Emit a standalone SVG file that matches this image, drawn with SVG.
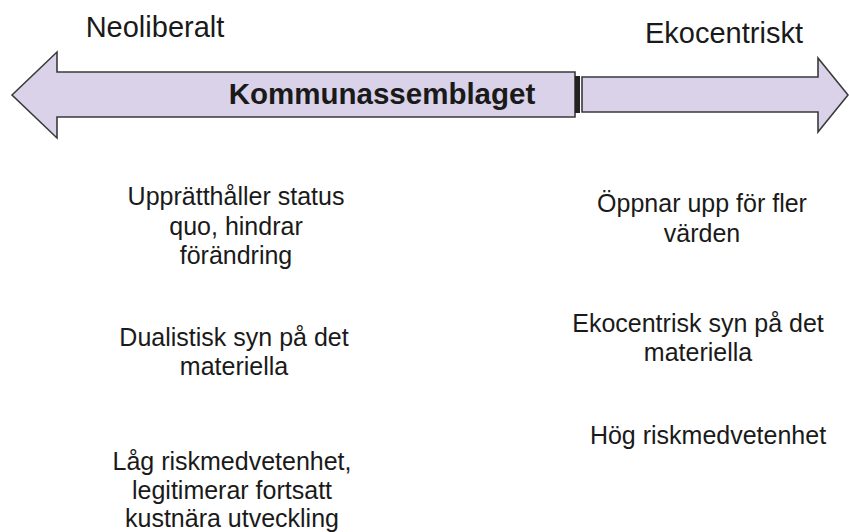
<svg xmlns="http://www.w3.org/2000/svg" width="849" height="532" viewBox="0 0 849 532">
<style>
.arrow{fill:#d9d2e9;stroke:#3a3a3a;stroke-width:1.6;stroke-linejoin:miter}
.t{font-family:"Liberation Sans",Arial,sans-serif;fill:#1a1a1a;text-anchor:middle}
.body{font-size:25px}
.head{font-size:29px}
.title{font-size:29.5px;font-weight:bold}
</style>
<rect width="849" height="532" fill="#ffffff"/>
<g id="connectors">
  <polygon id="arrow-left" class="arrow" points="12,95 57,52 57,72 575,72 575,117 57,117 57,138"/>
  <polygon id="arrow-right" class="arrow" points="582,77 818,77 818,58 848,95 818,132 818,112 582,112"/>
  <rect x="575" y="76" width="5" height="37" fill="#222"/>
</g>
<g id="title"><text class="t title" x="382" y="104">Kommunassemblaget</text></g>
<g id="neoliberalt"><text class="t head" x="155" y="37">Neoliberalt</text></g>
<g id="ekocentriskt"><text class="t head" x="724" y="43">Ekocentriskt</text></g>
<g id="n1"><text class="t body" x="236" y="205">Upprätthåller status<tspan x="236" dy="29.5">quo, hindrar</tspan><tspan x="236" dy="29.5">förändring</tspan></text></g>
<g id="e1"><text class="t body" x="702" y="212">Öppnar upp för fler<tspan x="702" dy="29.5">värden</tspan></text></g>
<g id="n2"><text class="t body" x="234" y="346">Dualistisk syn på det<tspan x="234" dy="29">materiella</tspan></text></g>
<g id="e2"><text class="t body" x="698" y="332">Ekocentrisk syn på det<tspan x="698" dy="29">materiella</tspan></text></g>
<g id="e3"><text class="t body" x="708" y="444">Hög riskmedvetenhet</text></g>
<g id="n3"><text class="t body" x="232" y="470">Låg riskmedvetenhet,<tspan x="232" dy="28.5">legitimerar fortsatt</tspan><tspan x="232" dy="28.5">kustnära utveckling</tspan></text></g>
</svg>
